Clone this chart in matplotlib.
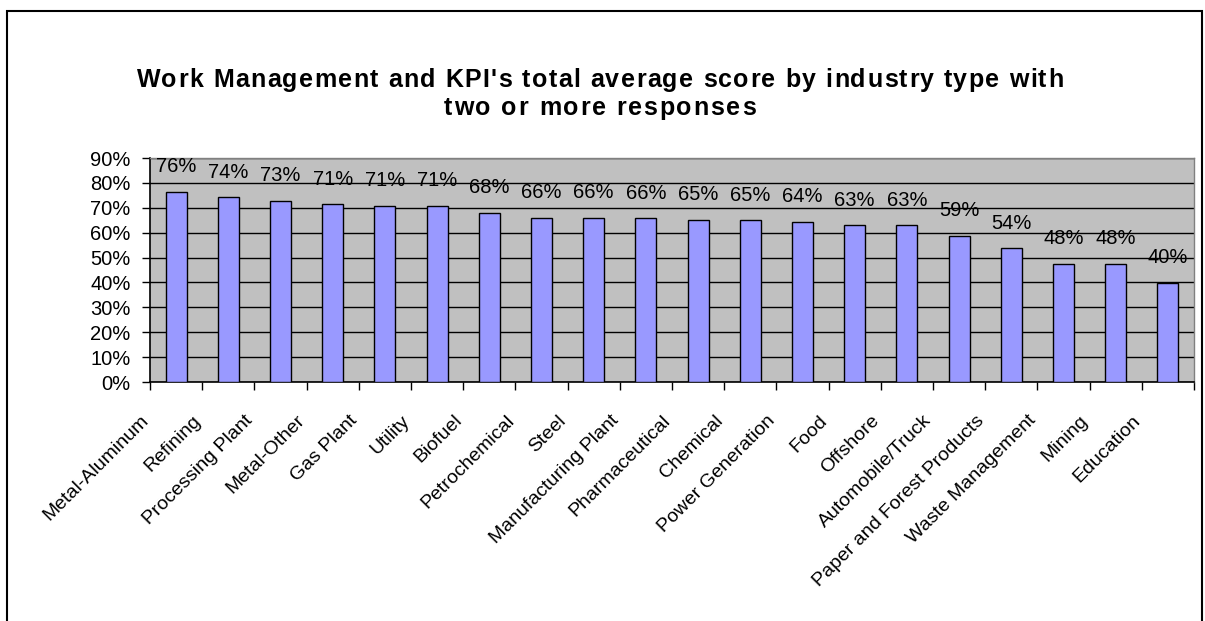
import matplotlib
matplotlib.use('Agg')
import matplotlib.pyplot as plt
import matplotlib.transforms as mtransforms
from matplotlib.patches import Rectangle
from matplotlib.font_manager import FontProperties
from matplotlib.ticker import FuncFormatter, MultipleLocator

plt.rcParams['font.family'] = ['Liberation Sans', 'DejaVu Sans']

# data
industries = ['Metal-Aluminum', 'Refining', 'Processing Plant', 'Metal-Other',
              'Gas Plant', 'Utility', 'Biofuel', 'Petrochemical', 'Steel',
              'Manufacturing Plant', 'Pharmaceutical', 'Chemical',
              'Power Generation', 'Food', 'Offshore', 'Automobile/Truck',
              'Paper and Forest Products', 'Waste Management', 'Mining',
              'Education']
scores = [76.4, 74.2, 72.9, 71.4, 70.8, 70.8, 68.0, 66.0, 66.0, 65.8,
          65.2, 65.0, 64.4, 63.0, 63.0, 58.7, 53.7, 47.6, 47.6, 39.9]
title_lines = ["Work Management and KPI's total average score by industry type with",
               "two or more responses"]

W, H = 1205, 621
fig = plt.figure(figsize=(W / 100, H / 100), dpi=100)
fig.patch.set_facecolor('white')


def spaced_text(x_px, y_px, s, track, prop):
    # horizontally centred text with extra letter spacing (Excel look)
    r = fig.canvas.get_renderer()
    w = lambda t: r.get_text_width_height_descent(t, prop, ismath=False)[0]
    total = w(s) + track * (len(s) - 1)
    x0 = x_px - total / 2
    for i, ch in enumerate(s):
        if ch == ' ':
            continue
        off = w(s[:i + 1]) - w(ch) + i * track
        fig.text((x0 + off) / W, 1 - y_px / H, ch, ha='left', va='baseline',
                 fontproperties=prop)


# chart border
fig.patches.append(Rectangle((7 / W, -0.01), (1202 - 7) / W, 1 - 11 / H + 0.01,
                             transform=fig.transFigure, fill=False,
                             edgecolor='black', linewidth=1.5))

ax = fig.add_axes([150 / W, 1 - 382 / H, (1194 - 150) / W, (382 - 158) / H])
ax.set_facecolor('#C0C0C0')

x = list(range(len(industries)))
ax.bar(x, scores, width=0.4, color='#9999FF', edgecolor='black', linewidth=1, zorder=3)

ax.set_xlim(-0.5, len(industries) - 0.5)
ax.set_ylim(0, 90)
ax.yaxis.set_major_locator(MultipleLocator(10))
ax.yaxis.set_major_formatter(FuncFormatter(lambda v, p: '%d%%' % round(v)))
ax.grid(axis='y', color='black', linewidth=1, zorder=1)
ax.set_axisbelow(True)

ax.set_xticks([i - 0.5 for i in range(len(industries) + 1)])
ax.set_xticklabels([])
ax.tick_params(axis='both', direction='out', length=6, width=1, color='black',
               labelsize=14.5)
ax.tick_params(axis='y', pad=8)

for side in ['left', 'bottom']:
    ax.spines[side].set_color('black')
    ax.spines[side].set_linewidth(1.2)
for side in ['top', 'right']:
    ax.spines[side].set_color('#808080')
    ax.spines[side].set_linewidth(1)

# value labels above bars
for xi, v in zip(x, scores):
    ax.annotate('%d%%' % round(v), (xi, v), xytext=(0, 18), textcoords='offset points',
                ha='center', va='center', fontsize=14.5, zorder=4)

# rotated category labels
shift = mtransforms.ScaledTranslation(-0.30, -0.36, fig.dpi_scale_trans)
for xi, name in zip(x, industries):
    ax.text(xi, 0, name, rotation=45, rotation_mode='anchor', ha='right', va='center',
            fontsize=14, transform=ax.get_xaxis_transform() + shift)

title_prop = FontProperties(family=['Liberation Sans', 'DejaVu Sans'],
                            weight='bold', size=18)
spaced_text(600, 87, title_lines[0], 1.4, title_prop)
spaced_text(600, 115, title_lines[1], 1.8, title_prop)

fig.savefig('out.png', dpi=100)
